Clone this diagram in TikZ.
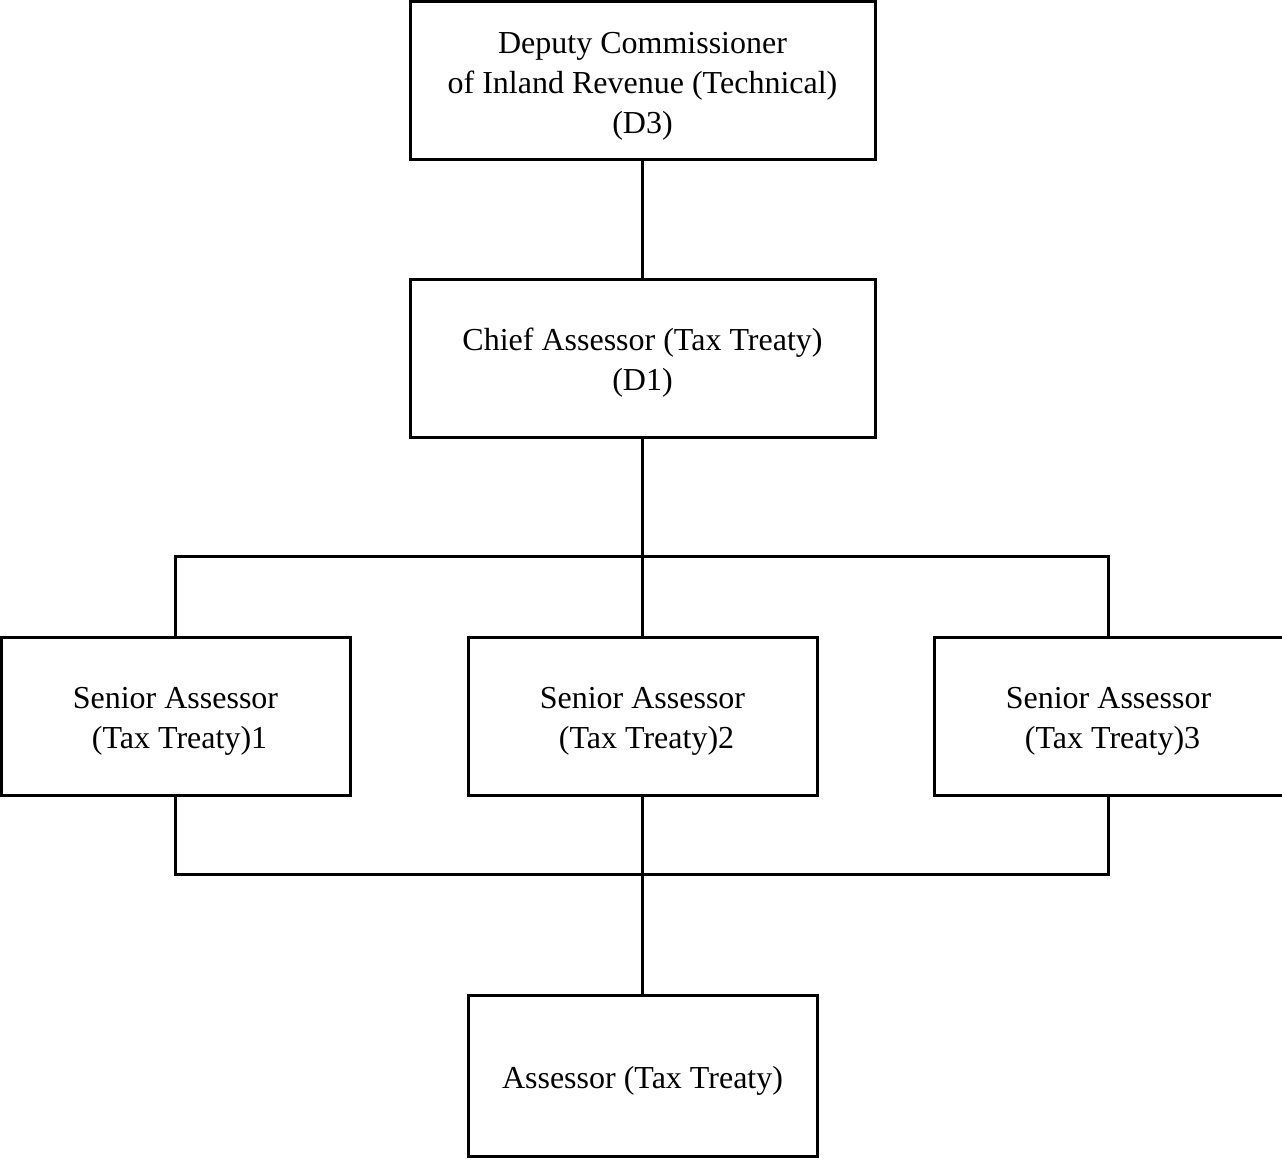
\documentclass[tikz,border=0pt]{standalone}
\usepackage{fontspec}
\setmainfont{Liberation Serif}
\newcommand{\lift}{\rule{0pt}{32pt}}
\begin{document}
\begin{tikzpicture}[x=1pt, y=-1pt, line width=3pt,
    post/.style={draw, align=center, inner sep=0pt, font=\fontsize{32}{40}\selectfont},
    wide/.style={post, minimum width=465pt, minimum height=158pt},
    narrow/.style={post, minimum width=349pt, minimum height=158pt}]
    \useasboundingbox (0,0) rectangle (1282,1159);
    % Posts
    \node[wide] (dci) at (642.5,80.5) {\lift Deputy Commissioner\\of Inland Revenue (Technical)\\(D3)};
    \node[wide] (chief) at (642.5,358) {\lift Chief Assessor (Tax Treaty)\\(D1)};
    \foreach \x/\n in {175.5/1, 642.5/2, 1108.5/3} {
        \node[narrow] (sa\n) at (\x,716) {\lift Senior Assessor\\~(Tax Treaty)\n};
    }
    \node[narrow, minimum height=161pt] (assessor) at (642.5,1075.5) {\lift Assessor (Tax Treaty)};
    % Lines
    \coordinate (bustop) at (642.5,556);
    \coordinate (busbot) at (642.5,874);
    \draw (dci) -- (chief);
    \draw (chief) -- (bustop);
    \draw (sa1.north) |- (bustop) -| (sa3.north);
    \draw (bustop) -- (sa2.north);
    \draw (sa1.south) |- (busbot) -| (sa3.south);
    \draw (sa2.south) -- (assessor.north);
\end{tikzpicture}
\end{document}
